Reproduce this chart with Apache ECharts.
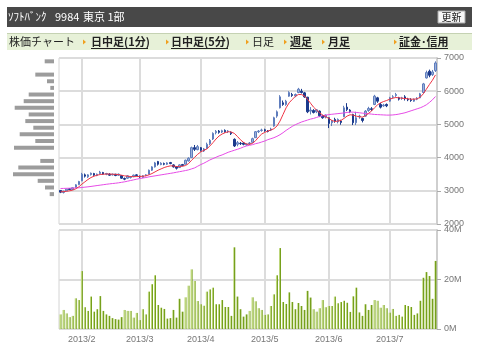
<!DOCTYPE html>
<html>
<head>
<meta charset="utf-8">
<script src="https://cdn.jsdelivr.net/npm/echarts@6/dist/echarts.min.js"></script>
<style>
html, body { margin: 0; padding: 0; background: #fff; }
#chart { width: 480px; height: 352px; }
</style>
</head>
<body>
<div id="chart"></div>
<script>
// ---- data ----
const year = 2013;
const days = [
  '1/23','1/24','1/25','1/28','1/29','1/30','1/31',
  '2/1','2/4','2/5','2/6','2/7','2/8','2/12','2/13','2/14','2/15','2/18','2/19','2/20','2/21','2/22','2/25','2/26','2/27','2/28',
  '3/1','3/4','3/5','3/6','3/7','3/8','3/11','3/12','3/13','3/14','3/15','3/18','3/19','3/21','3/22','3/25','3/26','3/27','3/28','3/29',
  '4/1','4/2','4/3','4/4','4/5','4/8','4/9','4/10','4/11','4/12','4/15','4/16','4/17','4/18','4/19','4/22','4/23','4/24','4/25','4/26','4/30',
  '5/1','5/2','5/7','5/8','5/9','5/10','5/13','5/14','5/15','5/16','5/17','5/20','5/21','5/22','5/23','5/24','5/27','5/28','5/29','5/30','5/31',
  '6/3','6/4','6/5','6/6','6/7','6/10','6/11','6/12','6/13','6/14','6/17','6/18','6/19','6/20','6/21','6/24','6/25','6/26','6/27','6/28',
  '7/1','7/2','7/3','7/4','7/5','7/8','7/9','7/10','7/11','7/12','7/16','7/17','7/18','7/19','7/22','7/23'
];

// [open, close, low, high]
const candles = [
  [3010,2960,2930,3020],[2950,2990,2920,3000],[3000,3050,2990,3060],[3060,3040,3020,3080],[3040,3090,3030,3100],
  [3100,3180,3090,3200],[3190,3280,3170,3300],[3300,3500,3290,3540],[3480,3440,3400,3520],[3420,3480,3390,3500],
  [3490,3530,3460,3550],[3520,3470,3450,3540],[3460,3500,3440,3520],[3520,3560,3500,3600],[3550,3500,3480,3570],
  [3500,3520,3470,3540],[3500,3470,3450,3530],[3480,3500,3460,3520],[3500,3460,3440,3510],[3470,3500,3450,3520],
  [3460,3380,3360,3470],[3370,3350,3320,3400],[3380,3450,3360,3470],[3400,3420,3370,3440],[3430,3470,3410,3490],
  [3480,3460,3440,3500],[3440,3420,3390,3460],[3400,3450,3380,3470],[3460,3480,3440,3500],[3500,3620,3490,3640],
  [3620,3720,3600,3740],[3720,3840,3700,3870],[3880,3800,3760,3900],[3790,3830,3770,3860],[3820,3800,3770,3850],
  [3800,3840,3780,3860],[3850,3820,3800,3870],[3780,3720,3700,3800],[3720,3680,3640,3740],[3700,3780,3690,3800],
  [3790,3760,3740,3810],[3800,3920,3790,3940],[3900,3980,3880,4010],[4000,4300,3990,4330],[4300,4250,4200,4380],
  [4240,4330,4220,4380],[4300,4220,4180,4320],[4200,4260,4170,4290],[4280,4400,4260,4450],[4420,4520,4380,4560],
  [4560,4730,4530,4760],[4750,4790,4700,4830],[4800,4760,4720,4830],[4770,4810,4740,4840],[4820,4780,4750,4850],
  [4780,4800,4740,4830],[4760,4720,4680,4790],[4550,4350,4320,4580],[4400,4450,4340,4500],[4430,4420,4380,4470],
  [4440,4400,4370,4470],[4380,4400,4360,4430],[4420,4440,4380,4470],[4460,4570,4440,4600],[4600,4780,4590,4800],
  [4780,4800,4740,4830],[4820,4830,4780,4870],[4840,4810,4780,4870],[4800,4790,4760,4830],[4830,4860,4800,4900],
  [4950,5200,4930,5230],[5250,5380,5200,5420],[5500,5830,5480,5880],[5650,5600,5560,5720],[5600,5700,5560,5740],
  [5850,5960,5830,6000],[5900,5870,5830,5950],[5860,5900,5820,5930],[5960,6060,5940,6100],[6000,5960,5930,6070],
  [5950,5830,5800,5980],[5820,5380,5340,5830],[5400,5430,5300,5520],[5420,5360,5330,5460],[5380,5440,5340,5460],
  [5400,5260,5220,5420],[5250,5200,5170,5290],[5220,5280,5180,5300],[5200,5030,4890,5210],[5050,5100,4950,5130],
  [5150,5100,5050,5200],[5080,5150,5030,5180],[5100,5060,4990,5140],[5230,5500,5220,5560],[5520,5450,5400,5640],
  [5430,5380,5340,5460],[5300,5050,4980,5320],[5050,5200,4980,5380],[5230,5250,5170,5290],[5180,5120,5060,5200],
  [5250,5400,5230,5430],[5420,5480,5380,5530],[5470,5450,5400,5520],[5600,5850,5580,5890],[5800,5700,5650,5830],
  [5600,5520,5480,5650],[5560,5580,5530,5620],[5600,5560,5520,5630],[5700,5800,5680,5830],[5820,5830,5780,5880],
  [5870,5900,5830,5950],[5800,5760,5720,5830],[5780,5800,5740,5830],[5830,5780,5720,5880],[5760,5740,5700,5800],
  [5740,5720,5680,5790],[5700,5760,5680,5780],[5760,5790,5730,5820],[5800,5920,5790,5950],[5960,6220,5950,6250],
  [6400,6560,6380,6620],[6600,6480,6420,6650],[6500,6580,6460,6640],[6620,6850,6580,6900]
];

// short moving average (red)
const maShort = [
  2970,2975,2985,3000,3020,3060,3120,3200,3270,3340,
  3400,3440,3470,3490,3500,3505,3505,3500,3495,3490,
  3470,3450,3440,3430,3425,3430,3430,3440,3450,3480,
  3520,3570,3620,3660,3700,3730,3750,3750,3730,3730,
  3740,3760,3820,3920,4010,4100,4170,4220,4260,4350,
  4450,4560,4650,4710,4750,4780,4770,4730,4640,4540,
  4460,4410,4400,4430,4510,4620,4710,4760,4800,4830,
  4870,4950,5100,5300,5500,5650,5750,5840,5900,5900,
  5860,5760,5640,5520,5430,5350,5280,5230,5180,5120,
  5090,5100,5120,5180,5250,5290,5280,5250,5230,5220,
  5260,5330,5400,5500,5590,5650,5690,5720,5760,5790,
  5810,5800,5790,5780,5770,5760,5760,5770,5820,5920,
  6060,6200,6330,6490
];

// long moving average (magenta)
const maLong = [
  3070,3072,3075,3078,3082,3086,3090,3100,3110,3120,
  3132,3145,3158,3170,3183,3196,3208,3218,3228,3240,
  3255,3270,3290,3310,3330,3350,3370,3385,3400,3420,
  3435,3450,3465,3480,3495,3510,3525,3540,3558,3575,
  3592,3610,3630,3660,3690,3740,3790,3830,3880,3930,
  3970,4010,4050,4080,4120,4160,4190,4220,4250,4280,
  4320,4350,4370,4390,4420,4440,4470,4500,4540,4570,
  4600,4640,4690,4750,4820,4880,4940,4990,5030,5070,
  5100,5130,5160,5180,5210,5240,5260,5280,5295,5305,
  5315,5325,5335,5345,5360,5370,5370,5360,5350,5340,
  5330,5320,5310,5300,5295,5290,5285,5280,5280,5285,
  5295,5310,5330,5350,5380,5410,5440,5470,5500,5540,
  5590,5660,5740,5840
];

// volume, millions of shares
const volume = [
  5.9,7.7,6.3,4.8,5.3,12.4,11.7,23.4,8.8,7.3,
  13.1,7.0,8.0,13.3,7.3,5.9,5.3,4.4,4.0,3.8,
  4.8,7.7,7.3,7.3,4.6,6.5,3.6,8.0,5.9,15.1,
  18.1,21.7,9.7,8.6,8.1,4.2,4.4,7.7,4.6,12.2,
  7.0,12.8,17.5,24.1,19.4,11.3,10.0,9.4,15.1,16.0,
  16.7,10.0,10.0,11.7,8.9,8.9,5.3,33.0,13.1,8.0,
  5.0,5.9,7.3,12.8,11.2,8.4,7.7,5.7,5.9,9.3,
  14.0,21.7,32.7,10.9,10.1,14.8,10.9,8.0,10.5,9.3,
  7.7,15.4,12.7,8.0,7.0,8.4,11.7,8.8,9.3,9.3,
  13.1,10.4,10.9,11.4,10.6,6.9,13.2,16.7,6.7,5.3,
  10.0,7.7,9.7,11.7,11.4,8.6,9.7,8.4,6.6,8.1,
  5.3,5.7,5.0,9.7,9.3,8.9,5.7,6.3,11.4,20.7,
  23.0,21.4,12.2,27.5
];

// volume by price (left histogram), 200-yen bins
const profileBins = ['2100','2300','2500','2700','2900','3100','3300','3500','3700','3900','4100','4300','4500',
  '4700','4900','5100','5300','5500','5700','5900','6100','6300','6500','6700','6900'];
const profileVol = [0,0,0,0,4.3,9,16.3,41,35.7,13.7,0,40,18.7,34.3,20.7,28.7,25.3,39.3,30.3,25.3,3.7,7,18.7,0,9.3];

const priceTicks = { min: 2000, max: 7000, step: 1000 };
const volTicks = { min: 0, max: 40, step: 20 };

// ---- chart ----
const chart = echarts.init(document.getElementById('chart'));

const isMonthStart = (i) => i > 0 && days[i].split('/')[0] !== days[i - 1].split('/')[0];
const gridLine = { color: '#dcdcdc', width: 2 };
const axisText = { color: '#777', fontSize: 9, fontFamily: 'Liberation Sans' };
const jp = '"Noto Sans CJK JP"';

const tabs = [
  { text: '株価チャート', x: 9, link: false, arrow: null },
  { text: '日中足(1分)', x: 91, link: true, arrow: 83, w: 57 },
  { text: '日中足(5分)', x: 171, link: true, arrow: 166, w: 57 },
  { text: '日足', x: 252, link: false, arrow: 246 },
  { text: '週足', x: 290, link: true, arrow: 284, w: 22 },
  { text: '月足', x: 328, link: true, arrow: 322, w: 22 },
  { text: '証金･信用', x: 399, link: true, arrow: 394, w: 49 }
];

const graphic = [
  { type: 'rect', shape: { x: 7, y: 7, width: 465, height: 20 }, style: { fill: '#484848' } },
  { type: 'text', x: 8, y: 17, style: { text: 'ｿﾌﾄﾊﾞﾝｸ', fill: '#fff', font: '11px ' + jp, verticalAlign: 'middle' } },
  { type: 'text', x: 55, y: 17, style: { text: '9984', fill: '#fff', font: '11px ' + jp, verticalAlign: 'middle' } },
  { type: 'text', x: 83, y: 17, style: { text: '東京 1部', fill: '#fff', font: '11px ' + jp, verticalAlign: 'middle' } },
  { type: 'rect', shape: { x: 438, y: 11, width: 27, height: 12 }, style: { fill: '#f6f6f6', stroke: '#aaa', lineWidth: 1 } },
  { type: 'text', x: 451.5, y: 17, style: { text: '更新', fill: '#222', font: '10px ' + jp, align: 'center', verticalAlign: 'middle' } },
  { type: 'rect', shape: { x: 7, y: 33, width: 465, height: 17 }, style: { fill: '#e7f1d8' } },
  { type: 'line', shape: { x1: 7, y1: 33.5, x2: 472, y2: 33.5 }, style: { stroke: '#c5d2b3', lineWidth: 1 } }
];
tabs.forEach(t => {
  if (t.arrow !== null) {
    graphic.push({ type: 'polygon', shape: { points: [[t.arrow, 39.5], [t.arrow + 3, 42], [t.arrow, 44.5]] }, style: { fill: '#f0a020' } });
  }
  graphic.push({ type: 'text', x: t.x, y: 42, style: { text: t.text, fill: '#222', font: (t.link ? 'bold ' : '') + '11px ' + jp, verticalAlign: 'middle' } });
  if (t.link) {
    graphic.push({ type: 'line', shape: { x1: t.x, y1: 48.5, x2: t.x + t.w, y2: 48.5 }, style: { stroke: '#222', lineWidth: 1 } });
  }
});

const option = {
  animation: false,
  grid: [
    { left: 59, top: 58, width: 378, height: 166, show: true, borderColor: '#d4d4d4', borderWidth: 1 },
    { left: 59, top: 230, width: 378, height: 99, show: true, borderColor: '#d4d4d4', borderWidth: 1 },
    { left: 9, top: 58, width: 45, height: 166 }
  ],
  xAxis: [
    {
      type: 'category', gridIndex: 0, data: days,
      axisLine: { show: false }, axisTick: { show: false }, axisLabel: { show: false },
      splitLine: { show: true, interval: (i) => isMonthStart(i), alignWithLabel: true, lineStyle: gridLine }
    },
    {
      type: 'category', gridIndex: 1, data: days,
      axisLine: { show: false }, axisTick: { show: false },
      axisLabel: Object.assign({ interval: (i) => isMonthStart(i), formatter: v => year + '/' + v.split('/')[0], margin: 6 }, axisText),
      splitLine: { show: true, interval: (i) => isMonthStart(i), alignWithLabel: true, lineStyle: gridLine }
    },
    { type: 'value', gridIndex: 2, inverse: true, min: 0, max: 45, show: false }
  ],
  yAxis: [
    {
      type: 'value', gridIndex: 0, position: 'right',
      min: priceTicks.min, max: priceTicks.max, interval: priceTicks.step,
      axisLine: { show: true, lineStyle: { color: '#cfcfcf', width: 2 } },
      axisTick: { show: true, length: 4, lineStyle: { color: '#aaa' } },
      axisLabel: Object.assign({ margin: 7, formatter: v => String(v) }, axisText),
      splitLine: { lineStyle: gridLine }
    },
    {
      type: 'value', gridIndex: 1, position: 'right',
      min: volTicks.min, max: volTicks.max, interval: volTicks.step,
      axisLine: { show: true, lineStyle: { color: '#cfcfcf', width: 2 } },
      axisTick: { show: true, length: 4, lineStyle: { color: '#aaa' } },
      axisLabel: Object.assign({ margin: 7, formatter: v => v + 'M' }, axisText),
      splitLine: { lineStyle: gridLine }
    },
    { type: 'category', gridIndex: 2, data: profileBins, show: false }
  ],
  series: [
    {
      type: 'candlestick', xAxisIndex: 0, yAxisIndex: 0, data: candles, barWidth: 2,
      itemStyle: { color: '#9db2da', borderColor: '#5f7dbd', color0: '#1b3a8c', borderColor0: '#1b3a8c', borderWidth: 1 }
    },
    {
      type: 'line', xAxisIndex: 0, yAxisIndex: 0, data: maLong, symbol: 'none', z: 3,
      lineStyle: { color: '#e64be6', width: 1 }
    },
    {
      type: 'line', xAxisIndex: 0, yAxisIndex: 0, data: maShort, symbol: 'none', z: 4,
      lineStyle: { color: '#ee3344', width: 1 }
    },
    {
      type: 'bar', xAxisIndex: 1, yAxisIndex: 1, data: volume, barWidth: 2,
      itemStyle: {
        color: new echarts.graphic.LinearGradient(0, 0, 1, 0, [
          { offset: 0, color: '#bcd67a' }, { offset: 0.5, color: '#bcd67a' },
          { offset: 0.5, color: '#76a01c' }, { offset: 1, color: '#76a01c' }
        ])
      }
    },
    {
      type: 'bar', xAxisIndex: 2, yAxisIndex: 2, data: profileVol, barWidth: 4,
      itemStyle: { color: '#9c9c9c' }
    }
  ],
  graphic: graphic
};

chart.setOption(option);
</script>
</body>
</html>
